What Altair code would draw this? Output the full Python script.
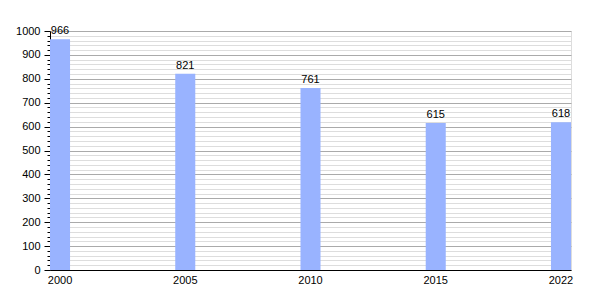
import altair as alt
import pandas as pd

years = ["2000", "2005", "2010", "2015", "2022"]
values = [966, 821, 761, 615, 618]

df = pd.DataFrame({"year": years, "value": values})

FONT = "Liberation Sans"

base = alt.Chart(df).encode(
    x=alt.X("year:O", sort=None,
            scale=alt.Scale(paddingInner=0.84, paddingOuter=0),
            axis=alt.Axis(title=None, labelAngle=0, ticks=False, domainColor="black",
                          labelFont=FONT, labelFontSize=11, labelColor="black",
                          labelPadding=4, grid=False)),
    y=alt.Y("value:Q",
            scale=alt.Scale(domain=[0, 1000], nice=False),
            axis=alt.Axis(title=None, values=list(range(0, 1001, 20)), format="d",
                          labelExpr="datum.value % 100 === 0 ? datum.label : ''",
                          tickSize={"condition": {"test": "datum.value % 100 === 0", "value": 6}, "value": 3},
                          tickColor="black", domainColor="black",
                          gridColor={"condition": {"test": "datum.value % 100 === 0", "value": "#aaaaaa"}, "value": "#dddddd"},
                          gridWidth=1, labelFont=FONT, labelFontSize=11, labelColor="black",
                          labelPadding=4)),
)

bars = base.mark_bar(color="#99b3ff")
labels = base.mark_text(baseline="bottom", dy=-3, font=FONT, fontSize=11, color="black").encode(
    text=alt.Text("value:Q"))

chart = (bars + labels).properties(
    width=521, height=239,
    autosize=alt.AutoSizeParams(type="none"),
    padding={"left": 50, "top": 31, "right": 29, "bottom": 30},
).configure_view(stroke=None).configure(background="white")

chart.save("out.html", embed_options={"renderer": "svg", "actions": False})
